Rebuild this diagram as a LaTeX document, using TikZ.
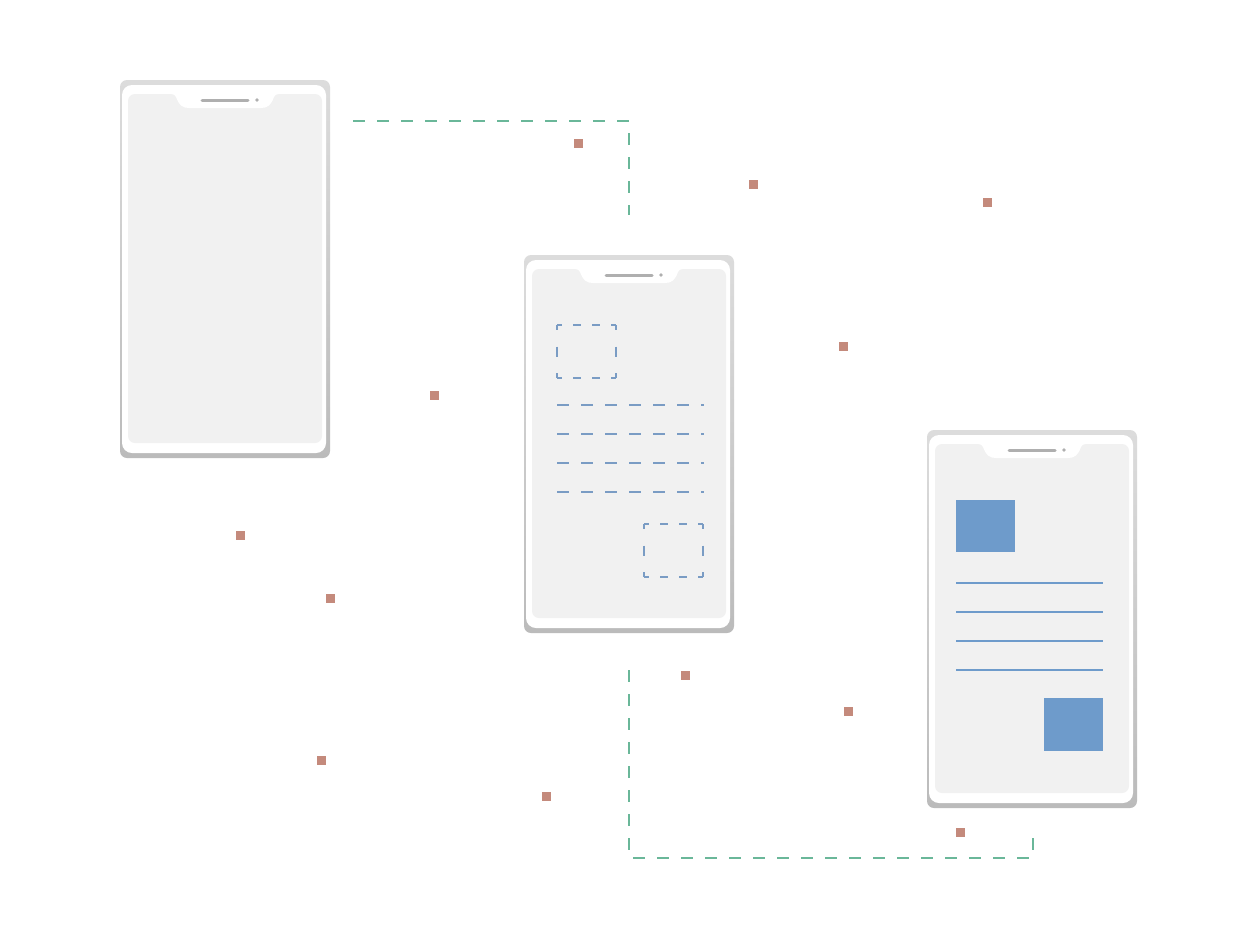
\documentclass[tikz,border=0pt]{standalone}
\definecolor{phtop}{HTML}{DCDCDC}
\definecolor{phbot}{HTML}{BBBBBB}
\definecolor{scr}{HTML}{F1F1F1}
\definecolor{spk}{HTML}{AFAFAF}
\definecolor{bl}{HTML}{6E9BCB}
\definecolor{bld}{HTML}{7A9CC4}
\definecolor{gr}{HTML}{6AB799}
\definecolor{dotc}{HTML}{C48A7C}
\tikzset{
  phone/.pic={
    \shade[top color=phtop,bottom color=phbot,rounded corners=7] (0,0) rectangle (210,378);
    \fill[white,rounded corners=10] (2,5) rectangle (206,373);
    \fill[scr,rounded corners=7] (8,14) rectangle (202,363);
    \fill[white] (51,13) -- (51,14) .. controls (54,14) and (55,15) .. (56,17)
      .. controls (59,25) and (62,28) .. (69,28) -- (141,28)
      .. controls (148,28) and (151,25) .. (154,17)
      .. controls (155,15) and (156,14) .. (159,14) -- (159,13) -- cycle;
    \draw[spk,line width=3,line cap=round] (82,20) -- (128,20);
    \fill[spk] (137,20) circle (1.8);
  },
  wbox/.pic={
    \draw[wirebox,dash pattern=on 5 off 11 on 8 off 11 on 8 off 11 on 5 off 50] (0,0) -- (59,0);
    \draw[wirebox,dash pattern=on 5 off 11 on 8 off 11 on 8 off 11 on 5 off 50] (0,53) -- (59,53);
    \draw[wirebox,dash pattern=on 5 off 16.5 on 10 off 16.5 on 5 off 50] (0,0) -- (0,53);
    \draw[wirebox,dash pattern=on 5 off 16.5 on 10 off 16.5 on 5 off 50] (59,0) -- (59,53);
  },
  flow/.style={gr,line width=2.8,dash pattern=on 12 off 12},
  wire/.style={bld,line width=2,dash pattern=on 12 off 12},
  wirebox/.style={bld,line width=2},
  solidline/.style={bl,line width=1.8},
  block/.style={fill=bl},
  spot/.style={fill=dotc},
}
\begin{document}
\begin{tikzpicture}[x=1pt,y=-1pt]
\useasboundingbox[fill=white] (0,0) rectangle (1257,940);
% phones
\pic at (120,80) {phone};
\pic at (524,255) {phone};
\pic at (927,430) {phone};
% middle wireframe
\pic at (557,325) {wbox};
\foreach \y in {405,434,463,492} \draw[wire] (557,\y) -- (704,\y);
\pic at (644,524) {wbox};
% right final layout
\fill[block] (956,500) rectangle (1015,552);
\foreach \y in {583,612,641,670} \draw[solidline] (956,\y) -- (1103,\y);
\fill[block] (1044,698) rectangle (1103,751);
% flow connectors
\coordinate (a1) at (353,121);
\coordinate (a2) at (629,121);
\coordinate (a3) at (629,215);
\draw[flow] (a1) -- (a2) -- (a3);
\coordinate (b1) at (629,670);
\coordinate (b2) at (629,858);
\coordinate (b3) at (1033,858);
\coordinate (b4) at (1033,838);
\draw[flow] (b1) -- (b2);
\draw[flow,dash phase=20] (b2) -- (b3);
\draw[flow] (b4) -- (b3);
% small squares
\foreach \x/\y in {578/143,753/184,987/202,843/346,434/395,240/535,330/598,685/675,848/711,321/760,546/796,960/832}
  \fill[spot] (\x-4.5,\y-4.5) rectangle (\x+4.5,\y+4.5);
\end{tikzpicture}
\end{document}
